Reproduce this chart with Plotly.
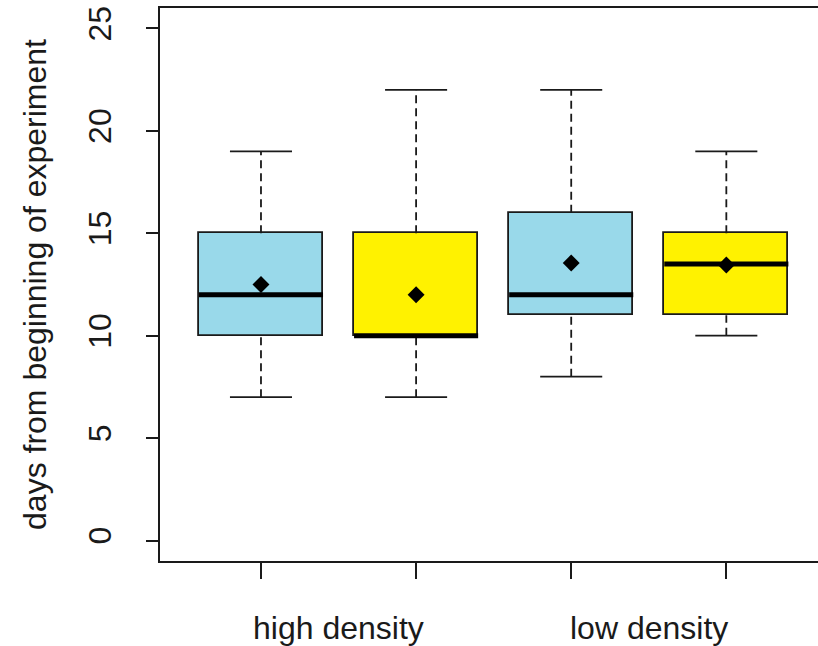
import plotly.graph_objects as go

# Box statistics (days from beginning of experiment)
box_min = [7, 7, 8, 10]
box_q1 = [10, 10, 11, 11]
box_median = [12, 10, 12, 13.5]
box_q3 = [15, 15, 16, 15]
box_max = [19, 22, 22, 19]
box_mean = [12.5, 12, 13.55, 13.45]
box_colors = ["#99D9EA", "#FFF200", "#99D9EA", "#FFF200"]

group_labels = ["high density", "low density"]
y_ticks = [0, 5, 10, 15, 20, 25]

positions = list(range(1, len(box_q1) + 1))
box_width = 0.8
cap_half = 0.2

FONT = "Liberation Sans, Arial, sans-serif"
LINE = "#1a1a1a"

fig = go.Figure()

# Dashed whiskers
wx, wy = [], []
for p, lo, q1, q3, hi in zip(positions, box_min, box_q1, box_q3, box_max):
    wx += [p, p, None, p, p, None]
    wy += [q3, hi, None, lo, q1, None]
fig.add_trace(go.Scatter(x=wx, y=wy, mode="lines",
                         line=dict(color=LINE, width=1.8, dash="8px,5px"),
                         hoverinfo="skip", showlegend=False))

# Whisker caps
cx, cy = [], []
for p, lo, hi in zip(positions, box_min, box_max):
    cx += [p - cap_half, p + cap_half, None, p - cap_half, p + cap_half, None]
    cy += [hi, hi, None, lo, lo, None]
fig.add_trace(go.Scatter(x=cx, y=cy, mode="lines",
                         line=dict(color=LINE, width=1.8),
                         hoverinfo="skip", showlegend=False))

# Boxes (q1 -> q3)
fig.add_trace(go.Bar(
    x=positions,
    base=box_q1,
    y=[q3 - q1 for q1, q3 in zip(box_q1, box_q3)],
    width=box_width,
    marker=dict(color=box_colors, line=dict(color=LINE, width=1.8)),
    hoverinfo="skip", showlegend=False,
))

# Medians
mx, my = [], []
for p, m in zip(positions, box_median):
    mx += [p - box_width / 2, p + box_width / 2, None]
    my += [m, m, None]
fig.add_trace(go.Scatter(x=mx, y=my, mode="lines",
                         line=dict(color="black", width=5),
                         hoverinfo="skip", showlegend=False))

# Means
fig.add_trace(go.Scatter(x=positions, y=box_mean, mode="markers",
                         marker=dict(symbol="diamond", size=13, color="black"),
                         hoverinfo="skip", showlegend=False))

# Group labels under the axis
for i, lab in enumerate(group_labels):
    fig.add_annotation(x=positions[2 * i] + 0.5, y=-0.121, xref="x", yref="paper",
                       text=lab, showarrow=False, yanchor="middle",
                       font=dict(family=FONT, size=32, color="#1a1a1a"))

fig.update_layout(
    width=818, height=646,
    margin=dict(l=160, r=0, t=8, b=85),
    plot_bgcolor="white", paper_bgcolor="white",
    font=dict(family=FONT, size=32, color="#1a1a1a"),
    bargap=0,
)
fig.update_xaxes(
    range=[0.349, 4.591],
    tickvals=positions, ticktext=["" for _ in positions],
    ticks="outside", ticklen=16, tickwidth=1.6, tickcolor=LINE,
    showline=True, linecolor=LINE, linewidth=1.6, mirror=True,
    showgrid=False, zeroline=False,
)
fig.update_yaxes(
    range=[-1, 26],
    tickvals=y_ticks, tickangle=-90, ticklabelstandoff=22,
    ticks="outside", ticklen=12, tickwidth=1.6, tickcolor=LINE,
    showline=True, linecolor=LINE, linewidth=1.6,
    showgrid=False, zeroline=False,
    title=dict(text="days from beginning of experiment", standoff=26,
               font=dict(family=FONT, size=32)),
)

# page without the default body margin so the figure fills the window
fig.write_html("out.html", config={"displayModeBar": False},
               post_script="document.body.style.margin='0';document.body.style.overflow='hidden';")
